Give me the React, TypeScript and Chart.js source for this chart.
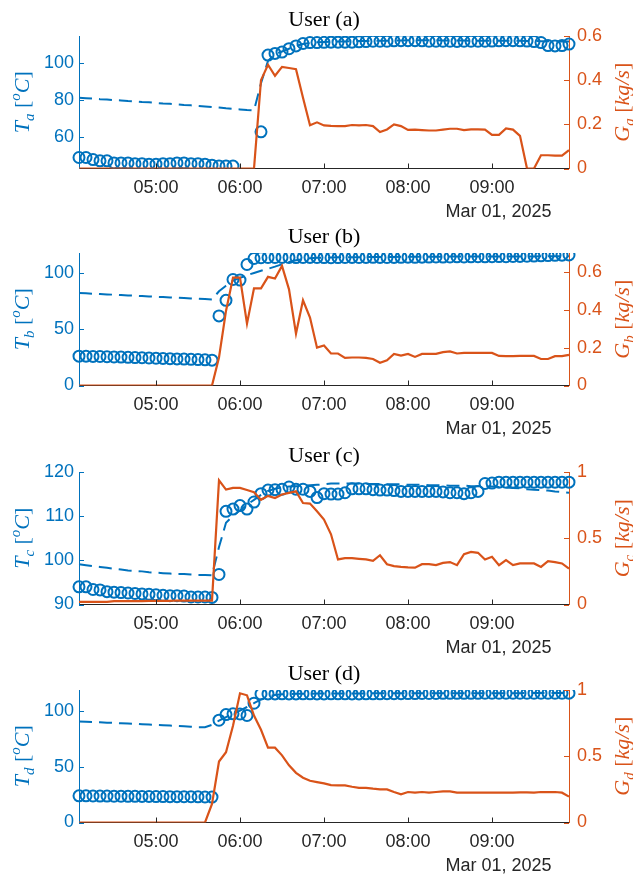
import React, { useEffect, useRef } from "react";
import { Chart, registerables } from "chart.js";
Chart.register(...registerables);

const BLUE = "#0072BD";
const ORANGE = "#D95319";
const AXIS = "#262626";
const SANS = '"Liberation Sans", Arial, Helvetica, sans-serif';
const SERIF = '"Liberation Serif", "Times New Roman", serif';

const times = [
  "04:05","04:10","04:15","04:20","04:25","04:30","04:35","04:40","04:45","04:50","04:55",
  "05:00","05:05","05:10","05:15","05:20","05:25","05:30","05:35","05:40","05:45","05:50","05:55",
  "06:00","06:05","06:10","06:15","06:20","06:25","06:30","06:35","06:40","06:45","06:50","06:55",
  "07:00","07:05","07:10","07:15","07:20","07:25","07:30","07:35","07:40","07:45","07:50","07:55",
  "08:00","08:05","08:10","08:15","08:20","08:25","08:30","08:35","08:40","08:45","08:50","08:55",
  "09:00","09:05","09:10","09:15","09:20","09:25","09:30","09:35","09:40","09:45","09:50","09:55",
];
const dateLabel = "Mar 01, 2025";

// ---- User (a)
const tempA = [49.3,49.3,48.2,47.5,47.5,46.4,46.4,46.4,46.0,46.0,
  45.7,45.7,46.0,46.0,46.4,46.4,46.0,46.0,45.7,45.2,
  44.8,44.8,44.7,null,null,null,63.0,104.1,105.0,105.7,
  107.5,109.0,110.3,110.8,110.8,110.9,111.0,111.0,111.0,111.0,
  111.2,111.3,111.5,111.5,111.5,111.7,111.8,111.8,111.8,111.7,
  111.5,111.5,111.5,111.5,111.4,111.5,111.5,111.5,111.5,111.6,
  111.7,111.8,111.8,111.7,111.6,111.3,110.8,109.2,109.0,109.2,
  110.0];
const simA = [81.2,81.0,80.8,80.5,80.3,80.0,79.8,79.5,79.3,79.0,
  78.8,78.5,78.2,78.0,77.7,77.4,77.2,76.9,76.6,76.3,
  76.0,75.6,75.3,75.0,74.7,74.5,89.0,101.0,104.5,106.0,
  107.5,109.0,110.0,110.6,110.9,111.1,111.2,111.3,111.4,111.5,
  111.6,111.6,111.7,111.8,111.8,111.9,111.9,112.0,112.0,112.0,
  112.0,112.0,111.9,111.9,111.9,111.9,111.8,111.8,111.8,111.8,
  111.8,111.7,111.7,111.7,111.6,111.6,111.5,111.5,111.4,111.4,
  111.3];
const flowA = [0,0,0,0,0,0,0,0,0,0,
  0,0,0,0,0,0,0,0,0,0,
  0,0,0,0,0,0,0.40,0.47,0.42,0.46,
  0.455,0.45,0.32,0.196,0.209,0.195,0.193,0.192,0.192,0.197,
  0.195,0.197,0.192,0.165,0.177,0.20,0.192,0.175,0.176,0.174,
  0.172,0.172,0.176,0.18,0.18,0.174,0.177,0.177,0.176,0.152,
  0.152,0.181,0.176,0.148,0,0,0.06,0.06,0.058,0.058,
  0.083];

// ---- User (b)
const tempB = [26.0,26.0,25.8,25.7,25.5,25.3,25.2,25.0,24.8,24.6,
  24.4,24.2,24.0,23.8,23.6,23.4,23.2,23.0,22.8,22.5,
  61.7,75.5,94.0,93.5,107.3,112.6,113.3,113.5,113.5,113.6,
  113.5,113.4,113.5,113.6,113.5,113.4,113.3,113.4,113.5,113.6,
  113.5,113.6,113.7,113.6,113.5,113.6,113.7,113.8,113.7,113.8,
  113.9,114.0,113.9,114.0,114.1,114.0,114.1,114.2,114.1,114.2,
  114.3,114.2,114.4,114.5,114.6,114.8,115.0,115.2,115.4,115.6,
  115.8];
const simB = [82.0,81.7,81.4,81.1,80.8,80.5,80.2,79.9,79.6,79.3,
  79.0,78.7,78.4,78.1,77.8,77.5,77.2,76.9,76.6,76.3,
  83.6,88.5,93.0,95.5,97.8,99.8,101.7,103.5,105.4,107.5,
  109.5,111.0,112.0,112.8,113.2,113.5,113.6,113.7,113.7,113.8,
  113.8,113.9,113.9,114.0,114.0,114.0,114.1,114.1,114.1,114.2,
  114.2,114.2,114.2,114.3,114.3,114.3,114.3,114.4,114.4,114.4,
  114.4,114.5,114.5,114.5,114.5,114.5,114.6,114.6,114.6,114.6,
  114.6];
const flowB = [0,0,0,0,0,0,0,0,0,0,
  0,0,0,0,0,0,0,0,0,0,
  0.148,0.394,0.57,0.57,0.327,0.513,0.513,0.574,0.565,0.632,
  0.508,0.274,0.45,0.359,0.20,0.211,0.169,0.169,0.146,0.148,
  0.148,0.146,0.14,0.12,0.133,0.167,0.158,0.167,0.151,0.167,
  0.167,0.167,0.176,0.18,0.169,0.172,0.172,0.172,0.172,0.172,
  0.156,0.155,0.155,0.156,0.156,0.156,0.14,0.14,0.155,0.155,
  0.162];

// ---- User (c)
const tempC = [94.0,94.0,93.4,93.3,92.9,92.8,92.7,92.6,92.5,92.4,
  92.3,92.2,92.1,92.0,92.0,91.9,91.7,91.7,91.7,91.6,
  96.8,111.1,111.6,112.4,111.6,113.2,115.1,115.9,116.0,116.1,
  116.6,116.1,116.1,115.6,114.2,115.1,115.0,115.0,115.3,116.2,
  116.2,116.2,116.0,115.9,115.9,115.8,115.6,115.6,115.6,115.6,
  115.6,115.6,115.5,115.3,115.3,115.1,115.3,115.6,117.4,117.5,
  117.7,117.7,117.7,117.7,117.7,117.7,117.7,117.7,117.7,117.7,
  117.7];
const simC = [99.1,98.9,98.7,98.5,98.3,98.1,97.9,97.7,97.6,97.5,
  97.3,97.2,97.1,97.0,96.9,96.9,96.8,96.7,96.7,96.6,
  103.0,108.5,110.1,111.3,112.6,113.7,114.8,115.7,116.2,116.5,
  116.7,116.8,116.9,117.0,117.1,117.2,117.4,117.4,117.4,117.4,
  117.4,117.3,117.3,117.3,117.2,117.2,117.2,117.1,117.1,117.1,
  117.0,117.0,117.0,116.9,116.9,116.9,116.8,116.8,116.7,116.7,
  116.6,116.5,116.4,116.3,116.1,116.0,115.9,115.8,115.6,115.5,
  115.3];
const flowC = [0.02,0.02,0.02,0.02,0.02,0.025,0.025,0.025,0.025,0.025,
  0.028,0.028,0.028,0.028,0.03,0.03,0.03,0.03,0.03,0.03,
  0.937,0.867,0.88,0.88,0.864,0.847,0.79,0.82,0.804,0.83,
  0.842,0.854,0.766,0.762,0.704,0.641,0.53,0.34,0.35,0.35,
  0.345,0.34,0.33,0.372,0.304,0.29,0.284,0.28,0.278,0.304,
  0.304,0.297,0.314,0.32,0.297,0.38,0.397,0.39,0.34,0.36,
  0.297,0.335,0.297,0.31,0.31,0.31,0.284,0.327,0.32,0.31,
  0.27];

// ---- User (d)
const tempD = [23.8,23.8,23.7,23.6,23.6,23.5,23.5,23.4,23.4,23.3,
  23.3,23.2,23.2,23.1,23.1,23.0,23.0,22.9,22.8,22.7,
  91.4,96.4,97.1,97.0,95.6,106.6,114.8,114.9,114.9,115.0,
  114.9,114.9,115.0,115.0,114.9,114.9,115.0,115.0,115.0,114.9,
  114.9,115.0,115.0,115.0,115.1,115.1,115.1,115.2,115.2,115.3,
  115.3,115.3,115.4,115.4,115.4,115.4,115.4,115.4,115.5,115.5,
  115.5,115.5,115.5,115.5,115.5,115.5,115.5,115.5,115.5,115.5,
  115.6];
const simD = [90.2,90.0,89.8,89.5,89.2,89.0,88.7,88.4,88.1,87.8,
  87.5,87.2,86.9,86.6,86.3,86.0,85.6,85.2,85.2,87.3,
  91.0,94.2,97.2,100.0,103.2,106.6,110.0,112.5,114.0,114.6,
  114.9,115.0,115.1,115.1,115.2,115.2,115.2,115.3,115.3,115.3,
  115.3,115.4,115.4,115.4,115.4,115.4,115.5,115.5,115.5,115.5,
  115.5,115.5,115.5,115.6,115.6,115.6,115.6,115.6,115.6,115.6,
  115.6,115.6,115.6,115.6,115.7,115.7,115.7,115.7,115.7,115.7,
  115.7];
const flowD = [0,0,0,0,0,0,0,0,0,0,
  0,0,0,0,0,0,0,0,0,0.14,
  0.46,0.53,0.73,0.975,0.96,0.807,0.70,0.565,0.565,0.507,
  0.432,0.375,0.338,0.315,0.305,0.295,0.282,0.28,0.28,0.27,
  0.262,0.262,0.255,0.25,0.25,0.23,0.212,0.23,0.225,0.23,
  0.225,0.23,0.235,0.235,0.225,0.225,0.225,0.225,0.225,0.225,
  0.225,0.225,0.225,0.228,0.228,0.225,0.23,0.23,0.23,0.225,
  0.195];

// axis ranges / ticks
const panelKeys = ["a", "b", "c", "d"];
const tempRanges = [[43.4, 114.3], [0, 117.5], [90, 120], [0, 118.4]];
const tempTicks = [[60, 80, 100], [0, 50, 100], [90, 100, 110, 120], [0, 50, 100]];
const flowRanges = [[0, 0.6], [0, 0.7], [0, 1], [0, 1]];
const flowTicks = [[0, 0.2, 0.4, 0.6], [0, 0.2, 0.4, 0.6], [0, 0.5, 1], [0, 0.5, 1]];
const tempSeries = [tempA, tempB, tempC, tempD];
const simSeries = [simA, simB, simC, simD];
const flowSeries = [flowA, flowB, flowC, flowD];

const CANVAS_W = 633;
const CANVAS_H = 228;
const PAD_TOP = 36;
const PLOT_H = 132.5;
const LEFT_W = 79;
const RIGHT_W = 64;
const canvasTops = [0, 217, 436, 654];

type Seg = { t: string; it?: boolean; s: number; dy?: number };

function drawRich(ctx: CanvasRenderingContext2D, segs: Seg[], cx: number, cy: number, color: string) {
  ctx.save();
  ctx.translate(cx, cy);
  ctx.rotate(-Math.PI / 2);
  ctx.fillStyle = color;
  ctx.textBaseline = "alphabetic";
  ctx.textAlign = "left";
  const fontOf = (s: Seg) => `${s.it ? "italic " : ""}${s.s}px ${SERIF}`;
  const widths = segs.map((s) => {
    ctx.font = fontOf(s);
    return ctx.measureText(s.t).width;
  });
  const total = widths.reduce((a, b) => a + b, 0);
  let x = -total / 2;
  segs.forEach((s, i) => {
    ctx.font = fontOf(s);
    ctx.fillText(s.t, x, 7 + (s.dy || 0));
    x += widths[i];
  });
  ctx.restore();
}

function makeChart(canvas: HTMLCanvasElement, idx: number) {
  const key = panelKeys[idx];
  const tT = tempTicks[idx];
  const fT = flowTicks[idx];
  const overlay = {
    id: "overlay" + key,
    afterDraw(chart: any) {
      const { ctx, chartArea } = chart;
      const { left, right, top, bottom } = chartArea;
      const xs = chart.scales.x;
      const yL = chart.scales.yL;
      const yR = chart.scales.yR;
      ctx.save();
      ctx.lineWidth = 1;
      ctx.strokeStyle = AXIS;
      let lastTickX = 0;
      times.forEach((t, i) => {
        if (t.endsWith(":00")) {
          const x = Math.round(xs.getPixelForValue(i)) + 0.5;
          lastTickX = x;
          ctx.beginPath();
          ctx.moveTo(x, bottom);
          ctx.lineTo(x, bottom - 5);
          ctx.stroke();
        }
      });
      ctx.strokeStyle = BLUE;
      tT.forEach((v) => {
        const y = Math.round(yL.getPixelForValue(v)) + 0.5;
        ctx.beginPath();
        ctx.moveTo(left, y);
        ctx.lineTo(left + 5, y);
        ctx.stroke();
      });
      ctx.strokeStyle = ORANGE;
      fT.forEach((v) => {
        const y = Math.round(yR.getPixelForValue(v)) + 0.5;
        ctx.beginPath();
        ctx.moveTo(right - 5, y);
        ctx.lineTo(right, y);
        ctx.stroke();
      });
      ctx.fillStyle = "#000";
      ctx.font = `22px ${SERIF}`;
      ctx.textAlign = "center";
      ctx.textBaseline = "alphabetic";
      ctx.fillText(`User (${key})`, (left + right) / 2, top - 10);
      ctx.fillStyle = AXIS;
      ctx.font = `18px ${SANS}`;
      ctx.fillText(dateLabel, lastTickX + 6, bottom + 48);
      ctx.restore();
      const cy = (top + bottom) / 2;
      drawRich(ctx, [
        { t: "T", it: true, s: 22 },
        { t: key, it: true, s: 15, dy: 5 },
        { t: " [", s: 22 },
        { t: "o", it: true, s: 15, dy: -9 },
        { t: "C", it: true, s: 22 },
        { t: "]", s: 22 },
      ], 22, cy, BLUE);
      drawRich(ctx, [
        { t: "G", it: true, s: 22 },
        { t: key, it: true, s: 15, dy: 5 },
        { t: " [", s: 22 },
        { t: "kg/s", it: true, s: 22 },
        { t: "]", s: 22 },
      ], 621.5, cy, ORANGE);
    },
  };

  return new Chart(canvas, {
    type: "line",
    data: {
      labels: times,
      datasets: [
        {
          label: "G",
          data: flowSeries[idx],
          yAxisID: "yR",
          borderColor: ORANGE,
          backgroundColor: ORANGE,
          borderWidth: 2.2,
          pointRadius: 0,
          tension: 0,
          fill: false,
          order: 0,
        },
        {
          label: "T measured",
          data: tempSeries[idx],
          yAxisID: "yL",
          showLine: false,
          borderColor: BLUE,
          backgroundColor: "rgba(0,0,0,0)",
          pointRadius: 5.5,
          pointBorderWidth: 2,
          pointBorderColor: BLUE,
          pointBackgroundColor: "rgba(0,0,0,0)",
          order: 1,
        },
        {
          label: "T model",
          data: simSeries[idx],
          yAxisID: "yL",
          borderColor: BLUE,
          backgroundColor: BLUE,
          borderWidth: 2,
          borderDash: [13, 7],
          pointRadius: 0,
          tension: 0,
          fill: false,
          order: 2,
        },
      ],
    } as any,
    options: {
      responsive: false,
      animation: false,
      events: [],
      layout: { padding: { top: PAD_TOP, left: 0, right: 0, bottom: 0 }, autoPadding: false },
      plugins: { legend: { display: false }, tooltip: { enabled: false }, title: { display: false } },
      scales: {
        x: {
          type: "category",
          offset: false,
          grid: { display: false, drawTicks: false },
          border: { display: true, color: AXIS, width: 1 },
          ticks: {
            autoSkip: false,
            maxRotation: 0,
            minRotation: 0,
            color: AXIS,
            padding: 9,
            font: { family: SANS, size: 18 },
            callback: (_v: any, i: number) => (times[i].endsWith(":00") ? times[i] : null),
          },
          afterFit: (s: any) => {
            s.height = CANVAS_H - PAD_TOP - PLOT_H;
          },
        },
        yL: {
          type: "linear",
          position: "left",
          min: tempRanges[idx][0],
          max: tempRanges[idx][1],
          afterBuildTicks: (s: any) => {
            s.ticks = tT.map((v) => ({ value: v }));
          },
          grid: { display: false, drawTicks: false },
          border: { display: true, color: BLUE, width: 1 },
          ticks: {
            color: BLUE,
            padding: 5,
            font: { family: SANS, size: 18 },
            callback: (v: any) => String(v),
          },
          afterFit: (s: any) => {
            s.width = LEFT_W;
          },
        },
        yR: {
          type: "linear",
          position: "right",
          min: flowRanges[idx][0],
          max: flowRanges[idx][1],
          afterBuildTicks: (s: any) => {
            s.ticks = fT.map((v) => ({ value: v }));
          },
          grid: { display: false, drawTicks: false },
          border: { display: true, color: ORANGE, width: 1 },
          ticks: {
            color: ORANGE,
            padding: 8,
            font: { family: SANS, size: 18 },
            callback: (v: any) => String(v),
          },
          afterFit: (s: any) => {
            s.width = RIGHT_W;
          },
        },
      },
    } as any,
    plugins: [overlay],
  });
}

export default function App() {
  const r0 = useRef<HTMLCanvasElement>(null);
  const r1 = useRef<HTMLCanvasElement>(null);
  const r2 = useRef<HTMLCanvasElement>(null);
  const r3 = useRef<HTMLCanvasElement>(null);
  const refs = [r0, r1, r2, r3];
  useEffect(() => {
    const charts = refs.map((r, i) => makeChart(r.current as HTMLCanvasElement, i));
    return () => charts.forEach((c) => c.destroy());
  }, []);
  return (
    <div style={{ position: "absolute", left: 0, top: 0, width: 633, height: 878, background: "#fff", overflow: "hidden" }}>
      {panelKeys.map((k, i) => (
        <canvas
          key={k}
          ref={refs[i]}
          width={CANVAS_W}
          height={CANVAS_H}
          style={{ position: "absolute", left: 0, top: canvasTops[i], width: CANVAS_W, height: CANVAS_H }}
        />
      ))}
    </div>
  );
}
